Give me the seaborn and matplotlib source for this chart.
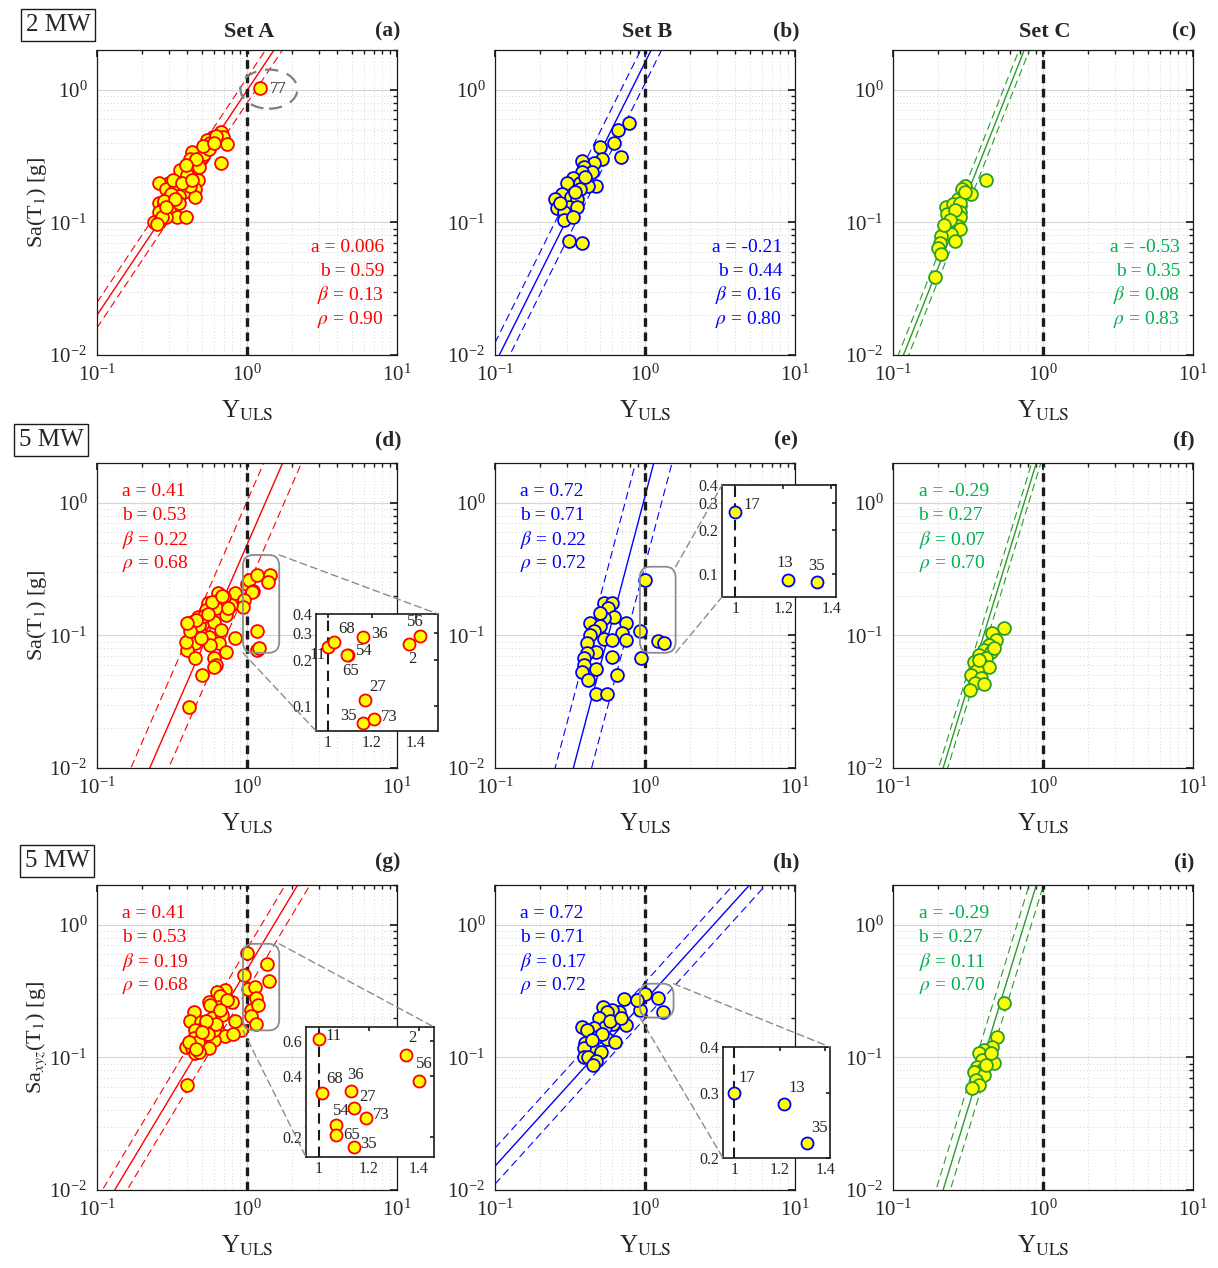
import numpy as np
import pandas as pd
import seaborn as sns
import matplotlib
matplotlib.use("Agg")
import matplotlib.pyplot as plt
from matplotlib.patches import FancyBboxPatch, Ellipse, ConnectionPatch
from matplotlib.ticker import FixedLocator, NullFormatter, LogLocator

sns.set_theme(style="white")
plt.rcParams['font.family'] = ['Liberation Serif', 'DejaVu Serif']
plt.rcParams['mathtext.fontset'] = 'stix'

# ---------------- data ----------------
A_Y = [0.67, 0.69, 0.74, 0.67, 0.59, 0.54, 0.57, 0.53, 0.49, 0.43, 0.42, 0.47, 0.40, 0.37, 0.45, 0.36, 0.41, 0.47,
       0.34, 0.30, 0.26, 0.38, 0.45, 0.29, 0.33, 0.38, 0.45, 0.30, 0.35, 0.26, 0.28, 0.33, 0.27, 0.30, 0.26, 0.34,
       0.39, 0.29, 0.24, 0.26, 0.27, 0.25, 1.22, 0.62, 0.50, 0.44, 0.52, 0.36, 0.32, 0.40, 0.31, 0.28, 0.35, 0.42,
       0.48, 0.56, 0.46, 0.39, 0.33, 0.29, 0.37, 0.51, 0.60, 0.43]
A_Sa = [0.48, 0.44, 0.39, 0.28, 0.44, 0.42, 0.40, 0.37, 0.34, 0.34, 0.30, 0.29, 0.26, 0.24, 0.24, 0.22, 0.22, 0.21,
        0.20, 0.20, 0.20, 0.19, 0.18, 0.18, 0.18, 0.17, 0.155, 0.155, 0.157, 0.14, 0.137, 0.133, 0.125, 0.125, 0.12,
        0.11, 0.11, 0.11, 0.10, 0.10, 0.11, 0.097, 1.04, 0.45, 0.31, 0.27, 0.33, 0.25, 0.21, 0.23, 0.165, 0.145,
        0.14, 0.19, 0.26, 0.36, 0.30, 0.27, 0.15, 0.13, 0.20, 0.38, 0.40, 0.21]

B_Y = [0.78, 0.66, 0.62, 0.50, 0.69, 0.52, 0.46, 0.38, 0.39, 0.44, 0.38, 0.33, 0.30, 0.37, 0.47, 0.42, 0.37, 0.28,
       0.32, 0.25, 0.35, 0.31, 0.35, 0.26, 0.29, 0.29, 0.31, 0.38, 0.34, 0.40, 0.27, 0.33]
B_Sa = [0.565, 0.50, 0.40, 0.37, 0.31, 0.30, 0.28, 0.29, 0.26, 0.24, 0.24, 0.215, 0.20, 0.20, 0.19, 0.19, 0.18,
        0.165, 0.155, 0.15, 0.15, 0.13, 0.13, 0.128, 0.12, 0.104, 0.072, 0.070, 0.17, 0.22, 0.14, 0.11]

C_Y = [0.42, 0.30, 0.33, 0.27, 0.225, 0.25, 0.28, 0.28, 0.23, 0.26, 0.28, 0.24, 0.25, 0.27, 0.28, 0.23, 0.245,
       0.26, 0.21, 0.205, 0.20, 0.21, 0.19, 0.29, 0.26, 0.24, 0.22, 0.30]
C_Sa = [0.21, 0.19, 0.165, 0.15, 0.13, 0.137, 0.14, 0.12, 0.115, 0.11, 0.11, 0.10, 0.097, 0.094, 0.089, 0.089,
        0.082, 0.073, 0.079, 0.07, 0.064, 0.058, 0.039, 0.18, 0.125, 0.105, 0.095, 0.17]

D_Y = [1.00, 1.025, 1.16, 1.09, 1.085, 1.42, 1.37, 1.17, 1.16, 1.21,
       0.83, 0.96, 0.94, 0.78, 0.70, 0.64, 0.65, 0.55, 0.53, 0.62, 0.72, 0.47, 0.43, 0.51, 0.60, 0.67, 0.43, 0.50,
       0.56, 0.83, 0.45, 0.40, 0.65, 0.72, 0.45, 0.60, 0.62, 0.60, 0.50, 0.41, 0.44, 0.48, 0.52, 0.58, 0.39, 0.46,
       0.68, 0.75, 0.57, 0.42, 0.49, 0.55, 0.40]
D_Sa = [0.244, 0.263, 0.284, 0.216, 0.214, 0.288, 0.255, 0.108, 0.077, 0.081,
        0.21, 0.185, 0.165, 0.17, 0.195, 0.21, 0.185, 0.175, 0.155, 0.16, 0.143, 0.138, 0.127, 0.125, 0.127, 0.11,
        0.10, 0.10, 0.097, 0.096, 0.088, 0.078, 0.088, 0.075, 0.068, 0.068, 0.06, 0.058, 0.05, 0.029, 0.115, 0.12,
        0.14, 0.18, 0.09, 0.13, 0.20, 0.16, 0.085, 0.108, 0.095, 0.145, 0.125]
D_ids = ['11', '68', '36', '54', '65', '56', '2', '27', '35', '73']

E_Y = [1.0, 1.22, 1.34, 0.93, 0.94, 0.535, 0.60, 0.57, 0.62, 0.535, 0.75, 0.43, 0.50, 0.70, 0.46, 0.43, 0.535,
       0.60, 0.75, 0.41, 0.47, 0.41, 0.60, 0.39, 0.395, 0.47, 0.38, 0.42, 0.65, 0.47, 0.56, 0.50]
E_Sa = [0.262, 0.091, 0.088, 0.108, 0.068, 0.176, 0.176, 0.16, 0.138, 0.136, 0.125, 0.125, 0.118, 0.105, 0.108,
        0.10, 0.094, 0.093, 0.093, 0.088, 0.075, 0.074, 0.069, 0.068, 0.06, 0.056, 0.053, 0.046, 0.05, 0.036,
        0.036, 0.148]
E_ids = ['17', '13', '35']

F_Y = [0.55, 0.457, 0.486, 0.437, 0.404, 0.45, 0.374, 0.417, 0.347, 0.392, 0.437, 0.363, 0.331, 0.386, 0.352,
       0.404, 0.326, 0.374, 0.47]
F_Sa = [0.114, 0.104, 0.092, 0.085, 0.078, 0.075, 0.071, 0.068, 0.063, 0.060, 0.058, 0.055, 0.050, 0.048, 0.044,
        0.043, 0.039, 0.065, 0.080]

G_Y = [1.0, 1.015, 1.07, 1.07, 1.13, 1.14, 1.14, 1.19, 1.35, 1.40,
       0.955, 0.91, 0.83, 0.71, 0.63, 0.66, 0.79, 0.56, 0.65, 0.44, 0.42, 0.49, 0.58, 0.52, 0.63, 0.45, 0.71, 0.60,
       0.44, 0.50, 0.39, 0.43, 0.45, 0.52, 0.56, 0.40, 0.60, 0.81, 0.47, 0.55, 0.68, 0.62, 0.48, 0.41, 0.74, 0.53,
       0.46, 0.57, 0.66, 0.50]
G_Sa = [0.61, 0.33, 0.23, 0.206, 0.34, 0.28, 0.18, 0.25, 0.51, 0.38,
        0.42, 0.16, 0.19, 0.32, 0.31, 0.29, 0.26, 0.26, 0.24, 0.22, 0.19, 0.185, 0.20, 0.17, 0.167, 0.16, 0.145,
        0.135, 0.14, 0.143, 0.12, 0.118, 0.108, 0.12, 0.118, 0.062, 0.16, 0.15, 0.13, 0.15, 0.21, 0.18, 0.11, 0.13,
        0.27, 0.19, 0.115, 0.25, 0.23, 0.155]
G_ids = ['11', '68', '54', '65', '36', '27', '35', '73', '2', '56']

H_Y = [1.0, 1.22, 1.32, 0.93, 0.88, 0.72, 0.67, 0.75, 0.60, 0.525, 0.56, 0.49, 0.61, 0.54, 0.46, 0.38, 0.41,
       0.48, 0.56, 0.63, 0.40, 0.44, 0.51, 0.39, 0.39, 0.42, 0.47, 0.45, 0.52, 0.44, 0.58, 0.69]
H_Sa = [0.30, 0.281, 0.219, 0.23, 0.27, 0.275, 0.22, 0.176, 0.23, 0.24, 0.22, 0.20, 0.18, 0.17, 0.167, 0.17, 0.16,
        0.143, 0.138, 0.13, 0.128, 0.12, 0.11, 0.118, 0.10, 0.101, 0.094, 0.088, 0.15, 0.135, 0.19, 0.20]
H_ids = ['17', '13', '35']

I_Y = [0.55, 0.494, 0.457, 0.404, 0.374, 0.437, 0.392, 0.47, 0.363, 0.392, 0.347, 0.404, 0.358, 0.374, 0.336,
       0.42, 0.45]
I_Sa = [0.258, 0.143, 0.12, 0.114, 0.108, 0.101, 0.096, 0.091, 0.085, 0.081, 0.078, 0.074, 0.068, 0.062, 0.059,
        0.088, 0.108]

# regression-line parameters (ln Y = a + b ln Sa, band = beta)
line_a = [0.006, -0.21, -0.53, 0.28, -0.027, -0.29, 0.41, 1.05, -0.29]
line_b = [0.59, 0.44, 0.35, 0.385, 0.233, 0.27, 0.53, 0.80, 0.27]
line_beta = [0.13, 0.16, 0.08, 0.29, 0.28, 0.07, 0.19, 0.25, 0.11]

# annotation texts
stat_a = ['0.006', '-0.21', '-0.53', '0.41', '0.72', '-0.29', '0.41', '0.72', '-0.29']
stat_b = ['0.59', '0.44', '0.35', '0.53', '0.71', '0.27', '0.53', '0.71', '0.27']
stat_beta = ['0.13', '0.16', '0.08', '0.22', '0.22', '0.07', '0.19', '0.17', '0.11']
stat_rho = ['0.90', '0.80', '0.83', '0.68', '0.72', '0.70', '0.68', '0.72', '0.70']
panel_tags = ['(a)', '(b)', '(c)', '(d)', '(e)', '(f)', '(g)', '(h)', '(i)']
set_titles = ['Set A', 'Set B', 'Set C']
row_tags = ['2 MW', '5 MW', '5 MW']
ylabels = ['Sa(T$_1$) [g]', 'Sa(T$_1$) [g]', 'Sa$_{xyz}$(T$_1$) [g]']

RED, BLUE, GREEN, GREEN_T = '#ff0000', '#0000ff', '#2a9d2a', '#00b050'
edge_cols = [RED, BLUE, GREEN]
text_cols = [RED, BLUE, GREEN_T]

panels_xy = [(A_Y, A_Sa), (B_Y, B_Sa), (C_Y, C_Sa), (D_Y, D_Sa), (E_Y, E_Sa), (F_Y, F_Sa),
             (G_Y, G_Sa), (H_Y, H_Sa), (I_Y, I_Sa)]

# ---------------- figure ----------------
W, H = 1218, 1268
fig = plt.figure(figsize=(W / 100, H / 100), dpi=100)


def px_axes(l, t, w, h):
    return fig.add_axes([l / W, 1 - (t + h) / H, w / W, h / H])


col_left = [97, 495, 893]
row_top = [50, 463, 885]
AW, AH = 300, 305


def to_frac(x, y):
    return ((np.log10(x) + 1) / 2.0, (np.log10(y) + 2) / np.log10(200))


axes = []
for k in range(9):
    r, c = divmod(k, 3)
    ax = px_axes(col_left[c], row_top[r], AW, AH)
    axes.append(ax)
    Y, Sa = panels_xy[k]
    ec = edge_cols[c]
    # regression lines
    xg = np.logspace(-1, 1, 300)
    a, b, be = line_a[k], line_b[k], line_beta[k]
    ym = np.exp((np.log(xg) - a) / b)
    ax.plot(xg, ym, color=ec, lw=1.0, zorder=2)
    for sgn in (-1, 1):
        ax.plot(xg, ym * np.exp(sgn * be / b), color=ec, lw=0.8, ls=(0, (7, 4)), zorder=2)
    ax.axvline(1.0, color='k', lw=2.4, ls=(0, (2.6, 1.7)), zorder=3)
    df = pd.DataFrame({'Y': Y, 'Sa': Sa})
    sns.scatterplot(data=df, x='Y', y='Sa', ax=ax, s=85, color='#ffff00', edgecolor=ec,
                    linewidth=1.3, legend=False, zorder=4)
    ax.set_xscale('log')
    ax.set_yscale('log')
    ax.set_xlim(0.1, 10)
    ax.set_ylim(0.01, 2)
    ax.grid(True, which='major', color='#d6d6d6', lw=0.8)
    ax.grid(True, which='minor', color='#c8c8c8', lw=0.6, ls=(0, (1, 3)))
    ax.xaxis.set_major_locator(LogLocator(base=10, numticks=10))
    ax.yaxis.set_major_locator(LogLocator(base=10, numticks=10))
    ax.tick_params(which='both', direction='in', top=True, right=True, labelsize=15, length=5,
                   color='k', pad=7)
    ax.tick_params(which='minor', length=3)
    for sp in ax.spines.values():
        sp.set_color('k')
        sp.set_linewidth(0.9)
    ax.set_xlabel(r'Y$_{\mathrm{ULS}}$', fontsize=18, labelpad=9)
    if c == 0:
        ax.set_ylabel(ylabels[r], fontsize=16, labelpad=0)
    else:
        ax.set_ylabel('')
    # stats text
    lines = ['a = ' + stat_a[k], 'b = ' + stat_b[k], r'$\beta$ = ' + stat_beta[k], r'$\rho$ = ' + stat_rho[k]]
    if r == 0:
        for i, s in enumerate(lines):
            ax.text(0.957, 0.354 - i * 0.0787, s, transform=ax.transAxes, ha='right', va='center',
                    fontsize=14, color=text_cols[c])
    else:
        for i, s in enumerate(lines):
            ax.text(0.085, 0.905 - i * 0.0787, s, transform=ax.transAxes, ha='left', va='center',
                    fontsize=14, color=text_cols[c])
    ty = 1.06 if r == 0 else 1.075
    ax.text(0.97, ty, panel_tags[k], transform=ax.transAxes, ha='center', va='center',
            fontsize=15.5, fontweight='bold')
    if r == 0:
        ax.text(0.507, 1.06, set_titles[c], transform=ax.transAxes, ha='center', va='center',
                fontsize=16, fontweight='bold')

# row tags
for r, (cx, cy) in enumerate([(58, 25), (51, 440), (57, 861)]):
    fig.text(cx / W, 1 - cy / H, row_tags[r], ha='center', va='center', fontsize=18,
             bbox=dict(boxstyle='square,pad=0.2', fc='white', ec='k', lw=1.0))

# panel (a) ellipse around point 77
ax = axes[0]
fx, fy = to_frac(A_Y[42], A_Sa[42])
ax.add_patch(Ellipse((fx + 0.03, fy - 0.005), 0.19, 0.128, transform=ax.transAxes, fill=False,
                     ec='#808080', lw=1.6, ls=(0, (6, 4)), zorder=5))
ax.annotate('77', (A_Y[42], A_Sa[42]), xytext=(7, -1), textcoords='offset points', fontsize=12,
            va='center', ha='left', color='#333333', zorder=6)


def rounded_box(ax, x0, x1, y0, y1):
    fx0, fy0 = to_frac(x0, y0)
    fx1, fy1 = to_frac(x1, y1)
    ax.add_patch(FancyBboxPatch((fx0, fy0), fx1 - fx0, fy1 - fy0,
                                boxstyle='round,pad=0,rounding_size=0.035', transform=ax.transAxes,
                                fill=False, ec='#8c8c8c', lw=1.3, zorder=5))
    return (fx0, fy0, fx1, fy1)


def inset(ax_main, rect_px, xlim, ylim, yticks, ytl, Y, Sa, ids, offs, ec, box, conn):
    ia = px_axes(*rect_px)
    ia.set_facecolor('white')
    ia.axvline(1.0, color='k', lw=1.5, ls=(0, (5, 3)), zorder=2)
    df = pd.DataFrame({'Y': Y, 'Sa': Sa})
    sns.scatterplot(data=df, x='Y', y='Sa', ax=ia, s=75, color='#ffff00', edgecolor=ec,
                    linewidth=1.3, legend=False, zorder=4)
    ia.set_yscale('log')
    ia.set_xlim(*xlim)
    ia.set_ylim(*ylim)
    ia.yaxis.set_major_locator(FixedLocator(yticks))
    ia.set_yticklabels(ytl)
    ia.yaxis.set_minor_formatter(NullFormatter())
    ia.yaxis.set_minor_locator(FixedLocator([]))
    ia.xaxis.set_major_locator(FixedLocator([1.0, 1.2, 1.4]))
    ia.set_xticklabels(['1', '1.2', '1.4'])
    ia.tick_params(direction='in', top=True, right=True, labelsize=11.5, length=3, pad=3)
    ia.set_xlabel('')
    ia.set_ylabel('')
    for sp in ia.spines.values():
        sp.set_color('k')
        sp.set_linewidth(1.2)
    for x, y, t, (dx, dy, ha) in zip(Y, Sa, ids, offs):
        ia.annotate(t, (x, y), xytext=(dx, dy), textcoords='offset points', fontsize=12, ha=ha,
                    va='center', zorder=6)
    for (pa, pb) in conn:
        cp = ConnectionPatch(xyA=(box[0] if pa[0] == 0 else box[2], box[1] if pa[1] == 0 else box[3]),
                             coordsA=ax_main.transAxes, xyB=pb, coordsB=ia.transAxes,
                             color='#8c8c8c', lw=1.0, ls=(0, (5, 3)), zorder=1)
        fig.add_artist(cp)
    return ia


# inset (d)
bx = rounded_box(axes[3], 0.94, 1.64, 0.074, 0.405)
inset(axes[3], (316, 614, 122, 117), (0.945, 1.5), (0.068, 0.4), [0.1, 0.2, 0.3, 0.4],
      ['0.1', '0.2', '0.3', '0.4'], D_Y[:10], D_Sa[:10], D_ids,
      [(-2, -6, 'right'), (3, 9, 'left'), (6, 2, 'left'), (6, 3, 'left'), (3, -11, 'center'),
       (-4, 10, 'center'), (2, -11, 'center'), (3, 10, 'left'), (-5, 5, 'right'), (5, 2, 'left')],
      RED, bx, [((1, 1), (1, 1)), ((0, 0), (0, 0))])

# inset (e)
bx = rounded_box(axes[4], 0.925, 1.6, 0.074, 0.33)
inset(axes[4], (722, 485, 114, 112), (0.945, 1.42), (0.07, 0.4), [0.1, 0.2, 0.3, 0.4],
      ['0.1', '0.2', '0.3', '0.4'], E_Y[:3], E_Sa[:3], E_ids,
      [(6, 5, 'left'), (-2, 12, 'center'), (0, 12, 'center')],
      BLUE, bx, [((1, 1), (0, 1)), ((1, 0), (0, 0))])

# inset (g)
bx = rounded_box(axes[6], 0.94, 1.64, 0.16, 0.72)
inset(axes[6], (306, 1027, 128, 130), (0.95, 1.46), (0.16, 0.70), [0.2, 0.4, 0.6],
      ['0.2', '0.4', '0.6'], G_Y[:10], G_Sa[:10], G_ids,
      [(5, 2, 'left'), (3, 10, 'left'), (4, 10, 'center'), (5, 0, 'left'), (3, 11, 'center'),
       (4, 8, 'left'), (5, 2, 'left'), (5, 2, 'left'), (4, 12, 'center'), (4, 12, 'center')],
      RED, bx, [((1, 1), (1, 1)), ((0, 0), (0, 0))])

# inset (h)
bx = rounded_box(axes[7], 0.925, 1.55, 0.20, 0.36)
inset(axes[7], (723, 1047, 107, 111), (0.95, 1.42), (0.2, 0.4), [0.2, 0.3, 0.4],
      ['0.2', '0.3', '0.4'], H_Y[:3], H_Sa[:3], H_ids,
      [(3, 11, 'left'), (3, 11, 'left'), (3, 11, 'left')],
      BLUE, bx, [((1, 1), (1, 1)), ((0, 0), (0, 0))])

fig.savefig('out.png', dpi=100)
